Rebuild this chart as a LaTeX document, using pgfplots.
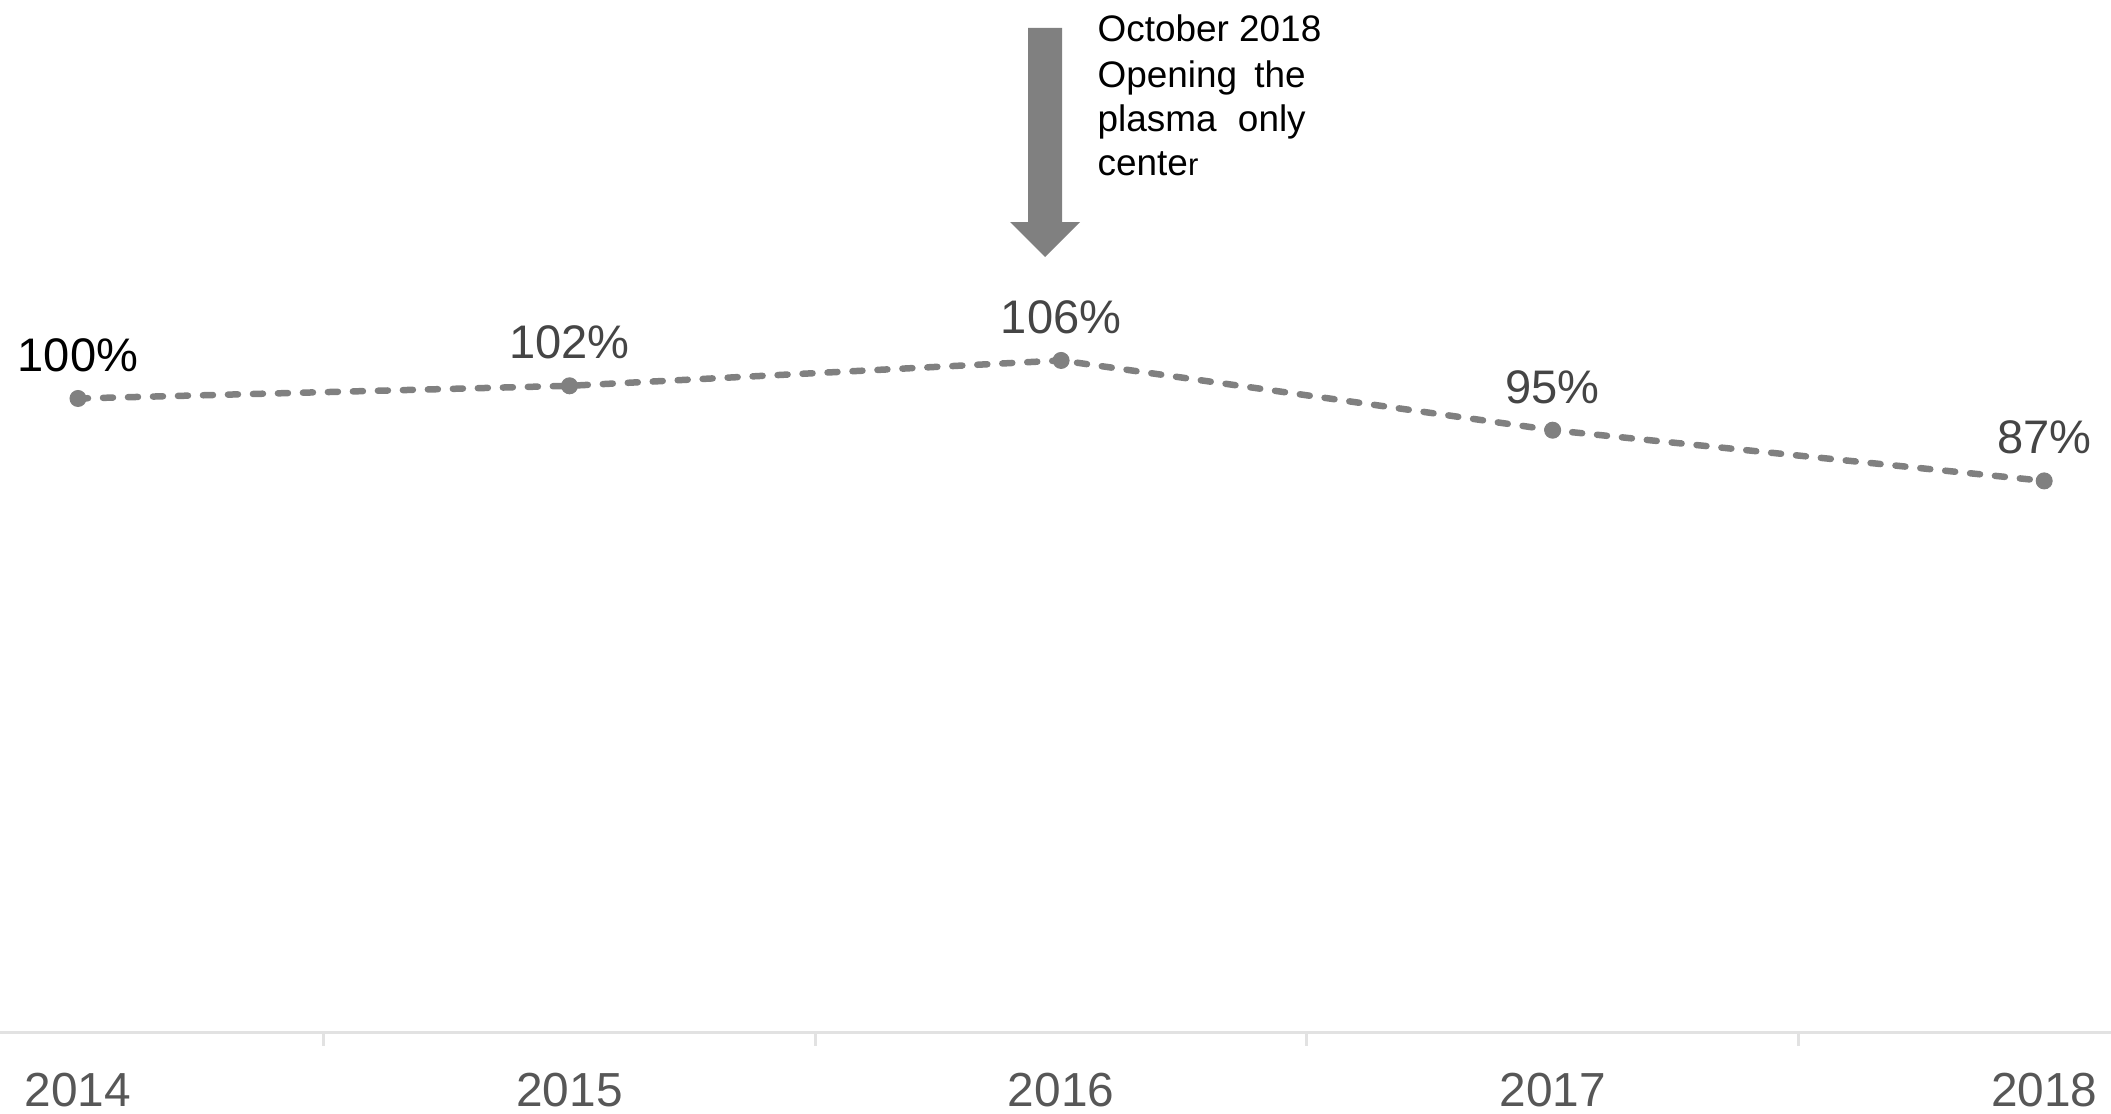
\documentclass[border=0pt]{standalone}
\usepackage{fontspec}
\setmainfont{Liberation Sans}
\usepackage{pgfplots}
\pgfplotsset{compat=1.18}
\definecolor{linegray}{HTML}{808080}
\definecolor{axisgray}{HTML}{E2E2E2}
\definecolor{labgray}{HTML}{454545}
\definecolor{yeargray}{HTML}{575757}
\begin{document}
\begin{tikzpicture}
\begin{axis}[
  at={(0,0.805cm)}, anchor=south west,
  scale only axis, width=21.11cm, height=10.325cm,
  xmin=-0.1587, xmax=4.136, ymin=0, ymax=162.85,
  axis x line=bottom, axis y line=none,
  axis line style={-, draw=axisgray, line width=0.035cm},
  xtick={0,1,2,3,4},
  xticklabels={2014,2015,2016,2017,2018},
  major tick length=0pt,
  minor xtick={0.5,1.5,2.5,3.5},
  minor tick length=0.13cm,
  xtick align=outside,
  minor tick style={draw=axisgray, line width=0.03cm},
  xticklabel style={anchor=base, yshift=-0.735cm, inner sep=0pt,
    font=\fontsize{13.6pt}{15pt}\selectfont, text=yeargray},
  clip=false,
]
\addplot[color=linegray, line width=0.065cm, dash pattern=on 0.10cm off 0.15cm,
  line cap=round, mark=*, mark size=0.08cm, mark options={solid, fill=linegray, draw=linegray, line width=0.01cm},
  point meta=explicit symbolic,
  nodes near coords={\pgfplotspointmeta},
  every node near coord/.append style={anchor=base, yshift=0.27cm, inner sep=0pt,
    font=\fontsize{13.4pt}{15pt}\selectfont, text=labgray}]
coordinates {
  (0,100) [{\color{black}100\%}]
  (1,102) [102\%]
  (2,106) [106\%]
  (3,95)  [95\%]
  (4,87)  [87\%]
};
\end{axis}
\fill[linegray] (10.28,10.85) -- (10.62,10.85) -- (10.62,8.91) -- (10.80,8.91)
  -- (10.45,8.56) -- (10.10,8.91) -- (10.28,8.91) -- cycle;
\begin{scope}[every node/.style={anchor=base west, inner sep=0pt,
    font=\fontsize{10.5pt}{12.8pt}\selectfont}]
\node at (10.97,10.71) {October 2018};
\node at (10.97,10.26) {\hbox to 2.08cm{Opening\hfill the}};
\node at (10.97,9.82) {\hbox to 2.08cm{plasma\hfill only}};
\node at (10.97,9.38) {cente{\fontsize{8.8pt}{10pt}\selectfont r}};
\end{scope}
\pgfresetboundingbox
\path[use as bounding box] (0,0) rectangle (21.11,11.13);
\end{tikzpicture}
\end{document}
